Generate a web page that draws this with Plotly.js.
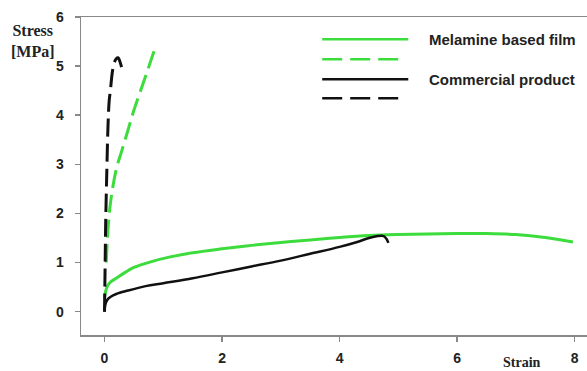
<!DOCTYPE html>
<html>
<head>
<meta charset="utf-8">
<script src="https://cdn.plot.ly/plotly-3.0.1.min.js"></script>
<style>html,body{margin:0;padding:0;background:#fff;}#chart{width:587px;height:371px;}</style>
</head>
<body>
<div id="chart"></div>
<script>
// Melamine based film - solid curve
const melSolidStrain = [0, 0.02, 0.05, 0.1, 0.2, 0.35, 0.5, 0.8, 1.1, 1.5, 2, 2.5, 3, 3.5, 4, 4.5, 5, 5.5, 6, 6.5, 7, 7.5, 7.97];
const melSolidStress = [0.28, 0.42, 0.52, 0.6, 0.68, 0.8, 0.9, 1.02, 1.11, 1.2, 1.28, 1.35, 1.41, 1.46, 1.51, 1.55, 1.57, 1.58, 1.59, 1.59, 1.57, 1.51, 1.42];
// Melamine based film - dashed curve
const melDashStrain = [0.03, 0.05, 0.1, 0.2, 0.3, 0.4, 0.5, 0.6, 0.7, 0.85];
const melDashStress = [1.0, 1.5, 2.2, 2.9, 3.3, 3.7, 4.1, 4.45, 4.8, 5.33];
// Commercial product - solid curve
const comSolidStrain = [0, 0.01, 0.03, 0.06, 0.1, 0.2, 0.4, 0.7, 1.0, 1.5, 2, 2.5, 3, 3.5, 4, 4.3, 4.5, 4.65, 4.75, 4.8, 4.83];
const comSolidStress = [0, 0.12, 0.2, 0.26, 0.3, 0.36, 0.43, 0.52, 0.58, 0.68, 0.8, 0.92, 1.04, 1.18, 1.32, 1.42, 1.5, 1.54, 1.54, 1.48, 1.4];
// Commercial product - dashed curve
const comDashStrain = [0, 0.01, 0.02, 0.04, 0.06, 0.08, 0.1, 0.13, 0.16, 0.2, 0.23, 0.26, 0.29];
const comDashStress = [0, 0.9, 1.8, 2.9, 3.8, 4.3, 4.5, 4.85, 5.05, 5.15, 5.17, 5.1, 4.98];

const xTicks = [0, 2, 4, 6, 8];
const yTicks = [0, 1, 2, 3, 4, 5, 6];
const legendLabels = ['Melamine based film', 'Commercial product'];

const GREEN = '#3ddc3d';
const BLACK = '#111111';
const AXIS = '#888888';

const traces = [
  {x: melSolidStrain, y: melSolidStress, mode: 'lines', line: {color: GREEN, width: 3, shape: 'spline'}, showlegend: false},
  {x: melDashStrain, y: melDashStress, mode: 'lines', line: {color: GREEN, width: 3, dash: '18px,7px', shape: 'spline'}, showlegend: false},
  {x: comSolidStrain, y: comSolidStress, mode: 'lines', line: {color: BLACK, width: 2.5, shape: 'spline'}, showlegend: false},
  {x: comDashStrain, y: comDashStress, mode: 'lines', line: {color: BLACK, width: 3, dash: '18px,7px', shape: 'spline'}, showlegend: false}
];

const tickFont = {family: 'Liberation Sans, Arial, sans-serif', size: 14, color: '#222', weight: 'bold'};
const serifFont = {family: 'Liberation Serif, Times New Roman, serif', size: 16, color: '#222', weight: 'bold'};
const legFont = {family: 'Liberation Sans, Arial, sans-serif', size: 15, color: '#222', weight: 'bold'};

function legLine(x0, x1, y, color, dash) {
  return {type: 'line', xref: 'paper', yref: 'paper', x0: x0, x1: x1, y0: y, y1: y,
          line: {color: color, width: 2.5, dash: dash || 'solid'}};
}

const layout = {
  width: 587, height: 371,
  margin: {l: 81, r: 0, t: 17, b: 36, pad: 0},
  paper_bgcolor: '#fff', plot_bgcolor: '#fff',
  showlegend: false,
  xaxis: {
    range: [-0.4, 8.21], tickvals: xTicks, ticktext: xTicks.map(String),
    showline: true, mirror: true, linecolor: AXIS, linewidth: 1.5,
    ticks: 'outside', ticklen: 5, tickcolor: AXIS, tickwidth: 1.5,
    showgrid: false, zeroline: false, tickfont: tickFont, ticklabelstandoff: 5
  },
  yaxis: {
    range: [-0.475, 6], tickvals: yTicks, ticktext: yTicks.map(String),
    showline: true, linecolor: AXIS, linewidth: 1.5,
    ticks: 'outside', ticklen: 5, tickcolor: AXIS, tickwidth: 1.5,
    showgrid: false, zeroline: false, tickfont: tickFont, ticklabelstandoff: 8
  },
  shapes: [
    legLine(0.4767, 0.6468, 0.9299, GREEN),
    legLine(0.4767, 0.6285, 0.8670, GREEN, '20px,8px'),
    legLine(0.4767, 0.6468, 0.8041, BLACK),
    legLine(0.4767, 0.6285, 0.7443, BLACK, '20px,8px')
  ],
  annotations: [
    {text: 'Stress<br>[MPa]', xref: 'paper', yref: 'paper', x: -0.0949, y: 0.923, xanchor: 'center', yanchor: 'middle', showarrow: false, font: serifFont, align: 'center'},
    {text: 'Strain', xref: 'paper', yref: 'paper', x: 0.8715, y: -0.088, xanchor: 'center', yanchor: 'middle', showarrow: false, font: Object.assign({}, serifFont, {size: 14})},
    {text: legendLabels[0], xref: 'paper', yref: 'paper', x: 0.6838, y: 0.9277, xanchor: 'left', yanchor: 'middle', showarrow: false, font: legFont},
    {text: legendLabels[1], xref: 'paper', yref: 'paper', x: 0.6838, y: 0.8041, xanchor: 'left', yanchor: 'middle', showarrow: false, font: legFont}
  ]
};

Plotly.newPlot('chart', traces, layout, {staticPlot: true, displayModeBar: false});
</script>
</body>
</html>
